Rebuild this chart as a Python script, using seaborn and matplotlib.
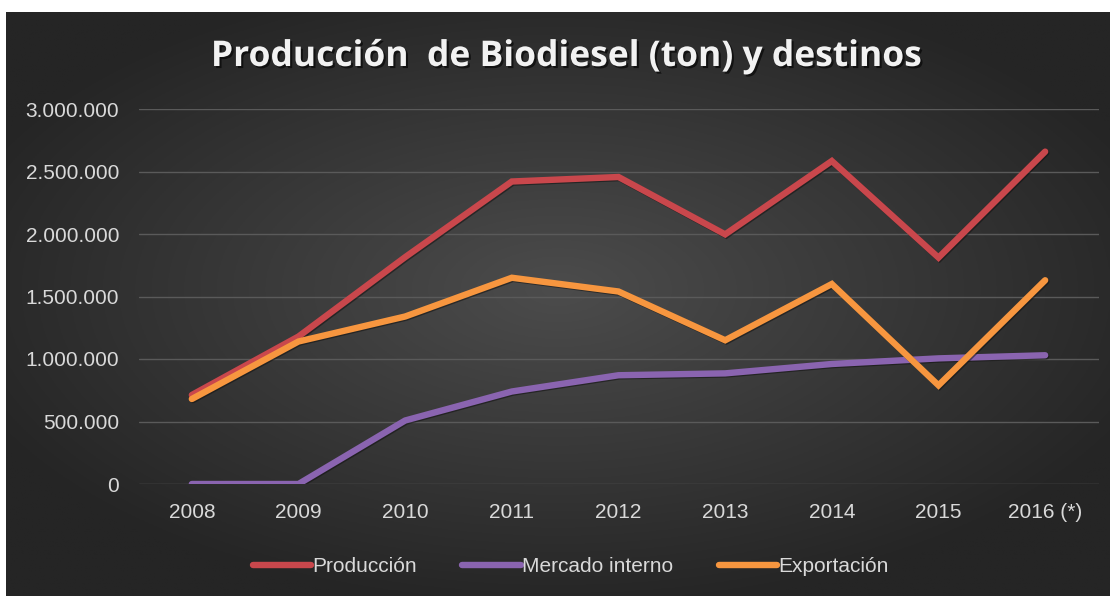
import numpy as np
import pandas as pd
import matplotlib
matplotlib.use("Agg")
import matplotlib.pyplot as plt
import matplotlib.patheffects as pe
from matplotlib.ticker import FuncFormatter
from matplotlib.lines import Line2D
from matplotlib import font_manager
import seaborn as sns

# Datos (toneladas)
anios = ["2008", "2009", "2010", "2011", "2012", "2013", "2014", "2015", "2016 (*)"]
produccion = [712000, 1180000, 1815000, 2420000, 2456000, 1997000, 2584000, 1811000, 2659000]
mercado_interno = [0, 0, 508000, 740000, 870000, 885000, 960000, 1005000, 1030000]
exportacion = [680000, 1140000, 1340000, 1650000, 1540000, 1150000, 1600000, 789000, 1630000]

series = ["Producción", "Mercado interno", "Exportación"]
colores = ["#C9474C", "#8A64B0", "#F7963F"]

df = pd.DataFrame({
    "anio": anios * 3,
    "ton": produccion + mercado_interno + exportacion,
    "serie": [s for s in series for _ in anios],
})

sns.set_theme(style="dark")
nombres = {f.name for f in font_manager.fontManager.ttflist}
fuente = "Liberation Sans Narrow" if "Liberation Sans Narrow" in nombres else "Liberation Sans"
plt.rcParams["font.family"] = [fuente, "DejaVu Sans"]

W, H = 1110, 596
fig = plt.figure(figsize=(W / 100, H / 100), dpi=100, facecolor="white")

# fondo con degradado radial
bg = fig.add_axes([6 / W, 0, 1 - 6 / W, 1 - 12 / H], zorder=-10)
yy, xx = np.mgrid[-1:1:300j, -1:1:600j]
r = np.sqrt((xx / 1.15) ** 2 + ((yy + 0.05) / 1.1) ** 2)
r = np.clip(r, 0, 1)
c0, c1 = np.array([0x4c, 0x4c, 0x4c]) / 255, np.array([0x25, 0x25, 0x25]) / 255
img = c0[None, None, :] * (1 - r[..., None]) + c1[None, None, :] * r[..., None]
bg.imshow(img, aspect="auto", extent=[0, 1, 0, 1])
bg.set_axis_off()

ax = fig.add_axes([138.5 / W, (H - 484) / H, (1098.5 - 138.5) / W, (484 - 109) / H])
ax.patch.set_alpha(0)

sns.lineplot(data=df, x="anio", y="ton", hue="serie", palette=colores,
             linewidth=4.6, sort=False, ax=ax, legend=False,
             solid_capstyle="round", solid_joinstyle="miter")
for ln in ax.lines:
    ln.set_path_effects([pe.SimpleLineShadow(offset=(0.8, -0.8), shadow_color="#111111", alpha=0.55),
                         pe.Normal()])

ax.set_xlim(-0.5, len(anios) - 0.5)
ax.set_ylim(0, 3000000)
ax.set_yticks(np.arange(0, 3000001, 500000))
ax.yaxis.set_major_formatter(FuncFormatter(lambda v, p: f"{int(v):,}".replace(",", ".")))
ax.grid(axis="y", color="#5a5a5a", linewidth=1)
ax.grid(axis="x", visible=False)
ax.set_axisbelow(True)
for s in ax.spines.values():
    s.set_visible(False)
ax.set_xlabel("")
ax.set_ylabel("")
ax.tick_params(axis="both", colors="#d9d9d9", labelsize=15, length=0)
ax.tick_params(axis="y", pad=14)
ax.tick_params(axis="x", pad=14)

fig.text(0.51, 1 - 57 / H, "Producción  de Biodiesel (ton) y destinos",
         ha="center", va="center", color="#f2f2f2", fontsize=25.5, fontweight="bold",
         family=["Open Sans", "DejaVu Sans"],
         path_effects=[pe.withSimplePatchShadow(offset=(1.5, -1.5), shadow_rgbFace="#000000", alpha=0.6)])

handles = [Line2D([0], [0], color=c, linewidth=4.6) for c in colores]
fig.legend(handles, series, loc="center", bbox_to_anchor=(0.514, 1 - 567 / H), ncol=3,
           frameon=False, fontsize=15, labelcolor="#d9d9d9", handlelength=2.8,
           handletextpad=0.05, columnspacing=2.2)

fig.savefig("out.png", dpi=100, facecolor="white")
